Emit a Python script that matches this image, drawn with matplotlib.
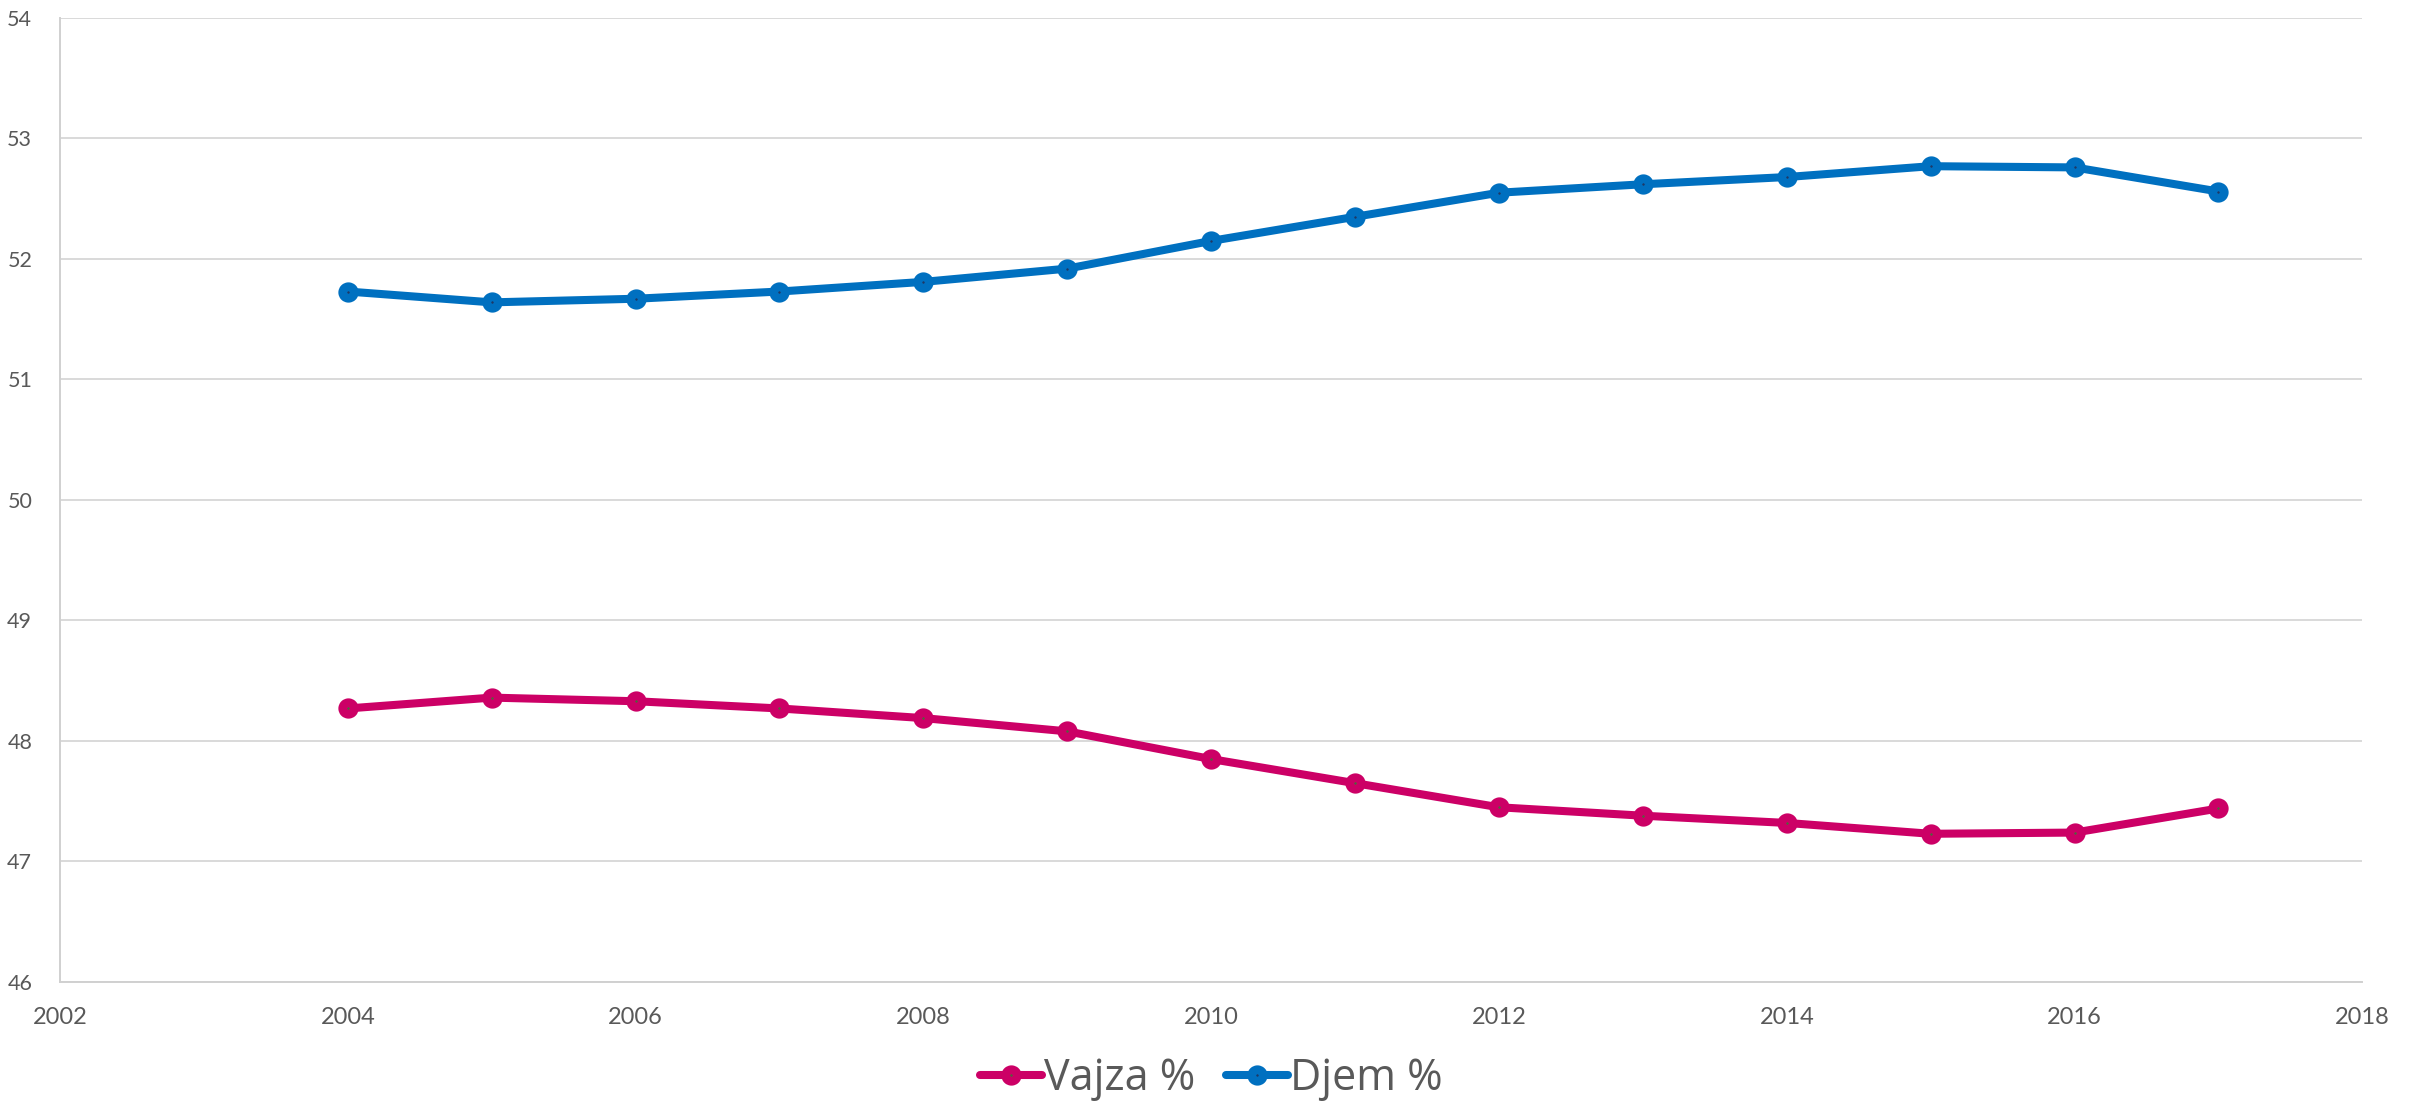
import matplotlib
matplotlib.use('Agg')
import matplotlib.pyplot as plt

years = [2004, 2005, 2006, 2007, 2008, 2009, 2010, 2011, 2012, 2013, 2014, 2015, 2016, 2017]
vajza = [48.27, 48.36, 48.33, 48.27, 48.19, 48.08, 47.85, 47.65, 47.45, 47.38, 47.32, 47.23, 47.24, 47.44]
djem = [51.73, 51.64, 51.67, 51.73, 51.81, 51.92, 52.15, 52.35, 52.55, 52.62, 52.68, 52.77, 52.76, 52.56]
x_ticks = [2002, 2004, 2006, 2008, 2010, 2012, 2014, 2016, 2018]
y_ticks = [46, 47, 48, 49, 50, 51, 52, 53, 54]

grey = '#595959'
plt.rcParams['font.family'] = ['Lato', 'DejaVu Sans']

fig = plt.figure(figsize=(24.18, 11.03), dpi=100)
ax = fig.add_axes([0.0248, 0.1097, 0.9522, 0.874])

style = dict(linewidth=5.8, marker='o', markersize=8.3, markeredgewidth=6.3,
             solid_capstyle='round', clip_on=False)
ax.plot(years, vajza, color='#CC0066', markeredgecolor='#CC0066',
        markerfacecolor='#4a6a3a', label='Vajza %', **style)
ax.plot(years, djem, color='#0070C0', markeredgecolor='#0070C0',
        markerfacecolor='#1f3864', label='Djem %', **style)

ax.set_xlim(2002, 2018)
ax.set_ylim(46, 54)
ax.set_xticks(x_ticks)
ax.set_yticks(y_ticks)
ax.grid(axis='y', color='#D9D9D9', linewidth=1.4)
ax.set_axisbelow(True)
for s in ['top', 'right']:
    ax.spines[s].set_visible(False)
for s in ['left', 'bottom']:
    ax.spines[s].set_color('#D0D0D0')
    ax.spines[s].set_linewidth(1.4)
ax.tick_params(axis='both', length=0, colors=grey)
ax.tick_params(axis='y', labelsize=15.5, pad=20)
ax.tick_params(axis='x', labelsize=17, pad=18)

leg = ax.legend(loc='center', bbox_to_anchor=(0.5, -0.1), ncol=2, frameon=False,
                prop={'family': 'Open Sans', 'size': 31},
                handlelength=1.45, handletextpad=0.05, columnspacing=0.7)
for t in leg.get_texts():
    t.set_color(grey)

fig.savefig('out.png', dpi=100)
